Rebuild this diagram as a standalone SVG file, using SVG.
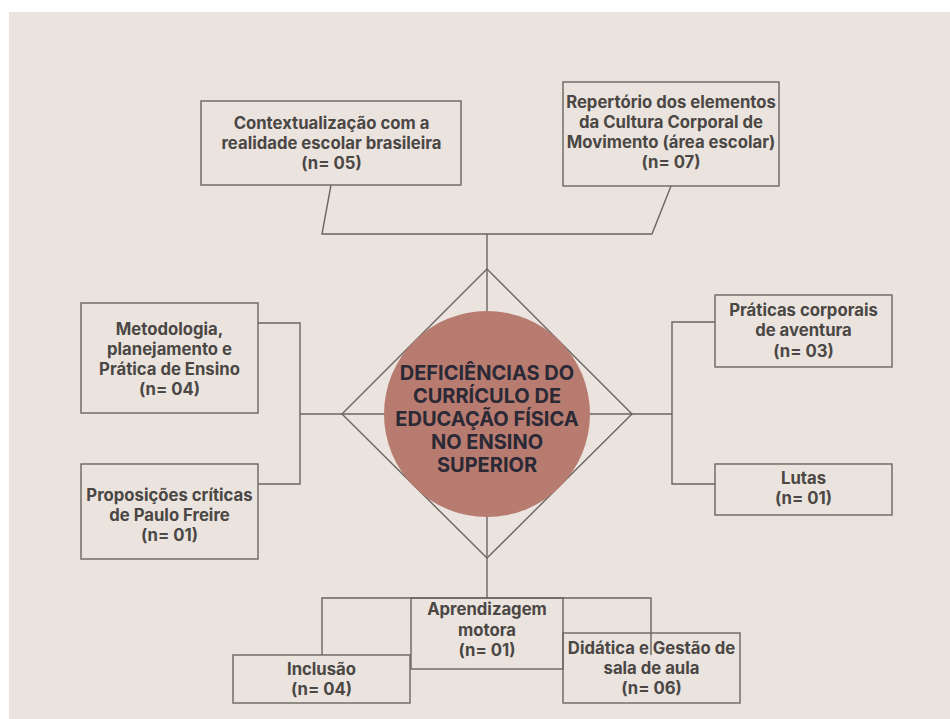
<svg xmlns="http://www.w3.org/2000/svg" width="950" height="719" viewBox="0 0 950 719">
<style>
.bg{fill:#ebe3dd}
.box{fill:none;stroke:#6b6562;stroke-width:1.4}
.ln{fill:none;stroke:#6b6562;stroke-width:1.4}
.t{font-family:Inter,"Liberation Sans",sans-serif;font-weight:700;font-size:16.7px;fill:#4a4745;text-anchor:middle}
.ct{font-family:Inter,"Liberation Sans",sans-serif;font-weight:700;font-size:20px;fill:#2a2935;text-anchor:middle}
</style>
<rect width="950" height="719" fill="#ffffff"/>
<rect class="bg" x="9" y="12" width="941" height="707"/>
<g id="connectors">
<polyline class="ln" points="331,185 322,234 652,234 671,186"/>
<line class="ln" x1="487" y1="234" x2="487" y2="598"/>
<line class="ln" x1="300" y1="414" x2="672" y2="414"/>
<polygon class="ln" points="487,269 632,414 487,558 342,414"/>
<polyline class="ln" points="258,323 300,323 300,484 258,484"/>
<polyline class="ln" points="715,322 672,322 672,484 715,484"/>
<polyline class="ln" points="322,655 322,598 651,598 651,655"/>
</g>
<g id="center">
<circle cx="487" cy="414" r="103" fill="#b77b70"/>
<text class="ct" x="487" y="379.5">DEFICIÊNCIAS DO</text>
<text class="ct" x="487" y="402.5">CURRÍCULO DE</text>
<text class="ct" x="487" y="425.5">EDUCAÇÃO FÍSICA</text>
<text class="ct" x="487" y="448.5">NO ENSINO</text>
<text class="ct" x="487" y="471.5">SUPERIOR</text>
</g>
<g id="n-contextualizacao">
<rect class="box" x="201" y="101" width="260" height="84"/>
<text class="t" x="331.5" y="129">Contextualização com a</text>
<text class="t" x="331.5" y="149">realidade escolar brasileira</text>
<text class="t" x="331.5" y="169">(n= 05)</text>
</g>
<g id="n-repertorio">
<rect class="box" x="563" y="82" width="216" height="104"/>
<text class="t" x="671" y="107.5">Repertório dos elementos</text>
<text class="t" x="671" y="127.5">da Cultura Corporal de</text>
<text class="t" x="671" y="147.5">Movimento (área escolar)</text>
<text class="t" x="671" y="167.5">(n= 07)</text>
</g>
<g id="n-metodologia">
<rect class="box" x="81" y="303" width="177" height="110"/>
<text class="t" x="169.5" y="335">Metodologia,</text>
<text class="t" x="169.5" y="355">planejamento e</text>
<text class="t" x="169.5" y="374.5">Prática de Ensino</text>
<text class="t" x="169.5" y="394.5">(n= 04)</text>
</g>
<g id="n-proposicoes">
<rect class="box" x="81" y="464" width="177" height="95"/>
<text class="t" x="169.5" y="500.5">Proposições críticas</text>
<text class="t" x="169.5" y="520.5">de Paulo Freire</text>
<text class="t" x="169.5" y="540.5">(n= 01)</text>
</g>
<g id="n-praticas">
<rect class="box" x="715" y="295" width="177" height="72"/>
<text class="t" x="803.5" y="316">Práticas corporais</text>
<text class="t" x="803.5" y="336">de aventura</text>
<text class="t" x="803.5" y="357">(n= 03)</text>
</g>
<g id="n-lutas">
<rect class="box" x="715" y="464" width="177" height="51"/>
<text class="t" x="803.5" y="483.5">Lutas</text>
<text class="t" x="803.5" y="504">(n= 01)</text>
</g>
<g id="n-aprendizagem">
<rect class="box" x="411" y="598" width="152" height="71"/>
<text class="t" x="487" y="615">Aprendizagem</text>
<text class="t" x="487" y="635.5">motora</text>
<text class="t" x="487" y="655.5">(n= 01)</text>
</g>
<g id="n-inclusao">
<rect class="box" x="233" y="655" width="177" height="48"/>
<text class="t" x="321.5" y="675">Inclusão</text>
<text class="t" x="321.5" y="695">(n= 04)</text>
</g>
<g id="n-didatica">
<rect class="box" x="563" y="633" width="177" height="70"/>
<text class="t" x="651.5" y="654">Didática e Gestão de</text>
<text class="t" x="651.5" y="674">sala de aula</text>
<text class="t" x="651.5" y="694">(n= 06)</text>
</g>
</svg>
